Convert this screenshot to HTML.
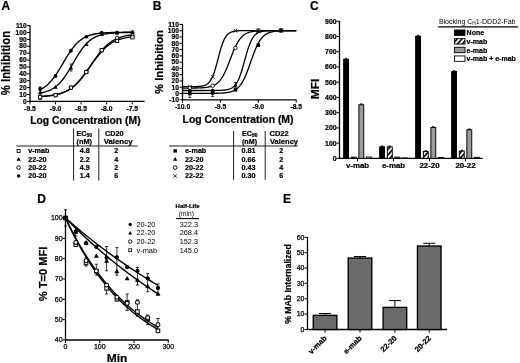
<!DOCTYPE html>
<html><head><meta charset="utf-8"><style>
html,body{margin:0;padding:0;background:#fff;}
svg{display:block;font-family:"Liberation Sans", sans-serif;filter:blur(0.3px);}
text[font-weight=bold]{stroke:#000;stroke-width:0.22px;}
</style></head><body>
<svg width="520" height="363" viewBox="0 0 520 363">
<rect width="520" height="363" fill="#fff"/>
<text x="1.60" y="10.30" font-size="12" font-weight="bold" text-anchor="start" fill="#000" >A</text>
<line x1="30.00" y1="25.31" x2="30.00" y2="101.90" stroke="#000" stroke-width="1.3"/>
<line x1="29.50" y1="101.40" x2="144.60" y2="101.40" stroke="#000" stroke-width="1.3"/>
<line x1="27.00" y1="101.40" x2="30.00" y2="101.40" stroke="#000" stroke-width="1.0"/>
<text x="26.60" y="103.60" font-size="6.6" font-weight="bold" text-anchor="end" fill="#000" >0</text>
<line x1="27.00" y1="94.51" x2="30.00" y2="94.51" stroke="#000" stroke-width="1.0"/>
<text x="26.60" y="96.71" font-size="6.6" font-weight="bold" text-anchor="end" fill="#000" >10</text>
<line x1="27.00" y1="87.62" x2="30.00" y2="87.62" stroke="#000" stroke-width="1.0"/>
<text x="26.60" y="89.82" font-size="6.6" font-weight="bold" text-anchor="end" fill="#000" >20</text>
<line x1="27.00" y1="80.73" x2="30.00" y2="80.73" stroke="#000" stroke-width="1.0"/>
<text x="26.60" y="82.93" font-size="6.6" font-weight="bold" text-anchor="end" fill="#000" >30</text>
<line x1="27.00" y1="73.84" x2="30.00" y2="73.84" stroke="#000" stroke-width="1.0"/>
<text x="26.60" y="76.04" font-size="6.6" font-weight="bold" text-anchor="end" fill="#000" >40</text>
<line x1="27.00" y1="66.95" x2="30.00" y2="66.95" stroke="#000" stroke-width="1.0"/>
<text x="26.60" y="69.15" font-size="6.6" font-weight="bold" text-anchor="end" fill="#000" >50</text>
<line x1="27.00" y1="60.06" x2="30.00" y2="60.06" stroke="#000" stroke-width="1.0"/>
<text x="26.60" y="62.26" font-size="6.6" font-weight="bold" text-anchor="end" fill="#000" >60</text>
<line x1="27.00" y1="53.17" x2="30.00" y2="53.17" stroke="#000" stroke-width="1.0"/>
<text x="26.60" y="55.37" font-size="6.6" font-weight="bold" text-anchor="end" fill="#000" >70</text>
<line x1="27.00" y1="46.28" x2="30.00" y2="46.28" stroke="#000" stroke-width="1.0"/>
<text x="26.60" y="48.48" font-size="6.6" font-weight="bold" text-anchor="end" fill="#000" >80</text>
<line x1="27.00" y1="39.39" x2="30.00" y2="39.39" stroke="#000" stroke-width="1.0"/>
<text x="26.60" y="41.59" font-size="6.6" font-weight="bold" text-anchor="end" fill="#000" >90</text>
<line x1="27.00" y1="32.50" x2="30.00" y2="32.50" stroke="#000" stroke-width="1.0"/>
<text x="26.60" y="34.70" font-size="6.6" font-weight="bold" text-anchor="end" fill="#000" >100</text>
<line x1="27.00" y1="25.61" x2="30.00" y2="25.61" stroke="#000" stroke-width="1.0"/>
<text x="26.60" y="27.81" font-size="6.6" font-weight="bold" text-anchor="end" fill="#000" >110</text>
<line x1="30.00" y1="101.40" x2="30.00" y2="104.40" stroke="#000" stroke-width="1.0"/>
<text x="30.00" y="111.30" font-size="6.7" font-weight="bold" text-anchor="middle" fill="#000" >-9.5</text>
<line x1="55.55" y1="101.40" x2="55.55" y2="104.40" stroke="#000" stroke-width="1.0"/>
<text x="55.55" y="111.30" font-size="6.7" font-weight="bold" text-anchor="middle" fill="#000" >-9.0</text>
<line x1="81.10" y1="101.40" x2="81.10" y2="104.40" stroke="#000" stroke-width="1.0"/>
<text x="81.10" y="111.30" font-size="6.7" font-weight="bold" text-anchor="middle" fill="#000" >-8.5</text>
<line x1="106.65" y1="101.40" x2="106.65" y2="104.40" stroke="#000" stroke-width="1.0"/>
<text x="106.65" y="111.30" font-size="6.7" font-weight="bold" text-anchor="middle" fill="#000" >-8.0</text>
<line x1="132.20" y1="101.40" x2="132.20" y2="104.40" stroke="#000" stroke-width="1.0"/>
<text x="132.20" y="111.30" font-size="6.7" font-weight="bold" text-anchor="middle" fill="#000" >-7.5</text>
<text x="10.30" y="63.10" font-size="12.0" font-weight="bold" text-anchor="middle" fill="#000" textLength="64.40" lengthAdjust="spacingAndGlyphs" transform="rotate(-90 10.30 63.10)" >% Inhibition</text>
<text x="30.20" y="124.40" font-size="10.4" font-weight="bold" text-anchor="start" fill="#000" textLength="110.40" lengthAdjust="spacingAndGlyphs" >Log Concentration (M)</text>
<path d="M40.17,89.56 L41.34,88.97 L42.51,88.32 L43.67,87.60 L44.84,86.81 L46.01,85.93 L47.18,84.96 L48.35,83.90 L49.51,82.75 L50.68,81.50 L51.85,80.15 L53.02,78.71 L54.19,77.17 L55.36,75.54 L56.52,73.82 L57.69,72.03 L58.86,70.16 L60.03,68.25 L61.20,66.29 L62.36,64.31 L63.53,62.32 L64.70,60.34 L65.87,58.38 L67.04,56.46 L68.21,54.59 L69.37,52.79 L70.54,51.06 L71.71,49.42 L72.88,47.87 L74.05,46.42 L75.21,45.06 L76.38,43.80 L77.55,42.64 L78.72,41.57 L79.89,40.60 L81.06,39.71 L82.22,38.90 L83.39,38.17 L84.56,37.51 L85.73,36.92 L86.90,36.39 L88.06,35.92 L89.23,35.50 L90.40,35.12 L91.57,34.78 L92.74,34.48 L93.91,34.22 L95.07,33.98 L96.24,33.77 L97.41,33.59 L98.58,33.43 L99.75,33.28 L100.91,33.15 L102.08,33.04 L103.25,32.94 L104.42,32.86 L105.59,32.78 L106.76,32.71 L107.92,32.65 L109.09,32.60 L110.26,32.55 L111.43,32.51 L112.60,32.47 L113.76,32.44 L114.93,32.41 L116.10,32.39 L117.27,32.37 L118.44,32.35 L119.61,32.33 L120.77,32.32 L121.94,32.30 L123.11,32.29 L124.28,32.28 L125.45,32.27 L126.61,32.26 L127.78,32.26 L128.95,32.25 L130.12,32.25 L131.29,32.24 L132.46,32.24" stroke="#000" stroke-width="1.35" fill="none"/>
<path d="M40.17,92.97 L41.34,92.76 L42.51,92.52 L43.67,92.26 L44.84,91.95 L46.01,91.61 L47.18,91.23 L48.35,90.80 L49.51,90.32 L50.68,89.78 L51.85,89.17 L53.02,88.50 L54.19,87.75 L55.36,86.93 L56.52,86.01 L57.69,85.01 L58.86,83.91 L60.03,82.71 L61.20,81.42 L62.36,80.02 L63.53,78.52 L64.70,76.92 L65.87,75.23 L67.04,73.45 L68.21,71.60 L69.37,69.68 L70.54,67.71 L71.71,65.70 L72.88,63.68 L74.05,61.66 L75.21,59.64 L76.38,57.67 L77.55,55.73 L78.72,53.86 L79.89,52.06 L81.06,50.35 L82.22,48.73 L83.39,47.20 L84.56,45.78 L85.73,44.45 L86.90,43.23 L88.06,42.11 L89.23,41.08 L90.40,40.15 L91.57,39.30 L92.74,38.53 L93.91,37.84 L95.07,37.22 L96.24,36.66 L97.41,36.17 L98.58,35.72 L99.75,35.33 L100.91,34.98 L102.08,34.67 L103.25,34.39 L104.42,34.15 L105.59,33.93 L106.76,33.74 L107.92,33.57 L109.09,33.42 L110.26,33.29 L111.43,33.17 L112.60,33.07 L113.76,32.98 L114.93,32.90 L116.10,32.83 L117.27,32.77 L118.44,32.72 L119.61,32.67 L120.77,32.63 L121.94,32.59 L123.11,32.56 L124.28,32.53 L125.45,32.51 L126.61,32.49 L127.78,32.47 L128.95,32.45 L130.12,32.44 L131.29,32.42 L132.46,32.41" stroke="#000" stroke-width="1.35" fill="none"/>
<path d="M40.17,96.43 L41.34,96.37 L42.51,96.30 L43.67,96.22 L44.84,96.13 L46.01,96.03 L47.18,95.92 L48.35,95.79 L49.51,95.66 L50.68,95.50 L51.85,95.34 L53.02,95.15 L54.19,94.94 L55.36,94.72 L56.52,94.47 L57.69,94.19 L58.86,93.88 L60.03,93.54 L61.20,93.17 L62.36,92.76 L63.53,92.31 L64.70,91.82 L65.87,91.27 L67.04,90.68 L68.21,90.04 L69.37,89.34 L70.54,88.58 L71.71,87.76 L72.88,86.87 L74.05,85.91 L75.21,84.88 L76.38,83.79 L77.55,82.62 L78.72,81.38 L79.89,80.07 L81.06,78.69 L82.22,77.24 L83.39,75.74 L84.56,74.18 L85.73,72.58 L86.90,70.93 L88.06,69.25 L89.23,67.55 L90.40,65.84 L91.57,64.12 L92.74,62.40 L93.91,60.71 L95.07,59.04 L96.24,57.40 L97.41,55.81 L98.58,54.27 L99.75,52.78 L100.91,51.36 L102.08,50.00 L103.25,48.71 L104.42,47.49 L105.59,46.35 L106.76,45.27 L107.92,44.26 L109.09,43.33 L110.26,42.46 L111.43,41.66 L112.60,40.91 L113.76,40.23 L114.93,39.60 L116.10,39.03 L117.27,38.50 L118.44,38.02 L119.61,37.58 L120.77,37.19 L121.94,36.82 L123.11,36.49 L124.28,36.20 L125.45,35.93 L126.61,35.68 L127.78,35.46 L128.95,35.26 L130.12,35.08 L131.29,34.92 L132.46,34.77" stroke="#000" stroke-width="1.35" fill="none"/>
<path d="M40.17,96.59 L41.34,96.53 L42.51,96.45 L43.67,96.37 L44.84,96.28 L46.01,96.19 L47.18,96.08 L48.35,95.95 L49.51,95.82 L50.68,95.67 L51.85,95.50 L53.02,95.31 L54.19,95.11 L55.36,94.88 L56.52,94.63 L57.69,94.35 L58.86,94.05 L60.03,93.71 L61.20,93.34 L62.36,92.93 L63.53,92.48 L64.70,91.99 L65.87,91.45 L67.04,90.86 L68.21,90.21 L69.37,89.51 L70.54,88.76 L71.71,87.94 L72.88,87.05 L74.05,86.10 L75.21,85.07 L76.38,83.98 L77.55,82.82 L78.72,81.59 L79.89,80.29 L81.06,78.93 L82.22,77.50 L83.39,76.02 L84.56,74.48 L85.73,72.90 L86.90,71.29 L88.06,69.64 L89.23,67.98 L90.40,66.31 L91.57,64.64 L92.74,62.98 L93.91,61.33 L95.07,59.72 L96.24,58.15 L97.41,56.62 L98.58,55.14 L99.75,53.72 L100.91,52.36 L102.08,51.06 L103.25,49.84 L104.42,48.68 L105.59,47.60 L106.76,46.58 L107.92,45.64 L109.09,44.76 L110.26,43.94 L111.43,43.19 L112.60,42.49 L113.76,41.86 L114.93,41.27 L116.10,40.74 L117.27,40.25 L118.44,39.80 L119.61,39.40 L120.77,39.03 L121.94,38.69 L123.11,38.39 L124.28,38.11 L125.45,37.86 L126.61,37.64 L127.78,37.44 L128.95,37.25 L130.12,37.09 L131.29,36.94 L132.46,36.80" stroke="#000" stroke-width="1.35" fill="none"/>
<path d="M40.17,87.00 L40.17,99.50 M38.77,87.00 L41.57,87.00 M38.77,99.50 L41.57,99.50" stroke="#000" stroke-width="0.8" fill="none"/>
<path d="M70.93,64.00 L70.93,71.00 M69.53,64.00 L72.33,64.00 M69.53,71.00 L72.33,71.00" stroke="#000" stroke-width="0.8" fill="none"/>
<circle cx="40.17" cy="89.00" r="1.90" fill="#000"/>
<circle cx="55.55" cy="75.91" r="1.90" fill="#000"/>
<circle cx="70.93" cy="50.76" r="1.90" fill="#000"/>
<circle cx="86.31" cy="36.63" r="1.90" fill="#000"/>
<circle cx="101.69" cy="32.57" r="1.90" fill="#000"/>
<circle cx="117.07" cy="32.57" r="1.90" fill="#000"/>
<circle cx="132.46" cy="32.22" r="1.90" fill="#000"/>
<path d="M40.17,90.24 L42.37,94.20 L37.97,94.20 Z" fill="#000"/>
<path d="M55.55,84.73 L57.75,88.69 L53.35,88.69 Z" fill="#000"/>
<path d="M70.93,65.44 L73.13,69.40 L68.73,69.40 Z" fill="#000"/>
<path d="M86.31,42.01 L88.51,45.97 L84.11,45.97 Z" fill="#000"/>
<path d="M101.69,32.02 L103.89,35.98 L99.49,35.98 Z" fill="#000"/>
<path d="M117.07,30.58 L119.27,34.54 L114.87,34.54 Z" fill="#000"/>
<path d="M132.46,30.16 L134.66,34.12 L130.26,34.12 Z" fill="#000"/>
<circle cx="40.17" cy="96.58" r="1.75" fill="#fff" stroke="#000" stroke-width="0.90"/>
<circle cx="55.55" cy="95.20" r="1.75" fill="#fff" stroke="#000" stroke-width="0.90"/>
<circle cx="70.93" cy="87.62" r="1.75" fill="#fff" stroke="#000" stroke-width="0.90"/>
<circle cx="86.31" cy="71.77" r="1.75" fill="#fff" stroke="#000" stroke-width="0.90"/>
<circle cx="101.69" cy="50.41" r="1.75" fill="#fff" stroke="#000" stroke-width="0.90"/>
<circle cx="117.07" cy="37.81" r="1.75" fill="#fff" stroke="#000" stroke-width="0.90"/>
<circle cx="132.46" cy="35.60" r="1.75" fill="#fff" stroke="#000" stroke-width="0.90"/>
<rect x="38.57" y="95.67" width="3.20" height="3.20" fill="#fff" stroke="#000" stroke-width="0.90"/>
<rect x="53.95" y="93.60" width="3.20" height="3.20" fill="#fff" stroke="#000" stroke-width="0.90"/>
<rect x="69.33" y="86.02" width="3.20" height="3.20" fill="#fff" stroke="#000" stroke-width="0.90"/>
<rect x="84.71" y="70.52" width="3.20" height="3.20" fill="#fff" stroke="#000" stroke-width="0.90"/>
<rect x="100.09" y="48.61" width="3.20" height="3.20" fill="#fff" stroke="#000" stroke-width="0.90"/>
<rect x="115.47" y="39.31" width="3.20" height="3.20" fill="#fff" stroke="#000" stroke-width="0.90"/>
<rect x="130.86" y="35.72" width="3.20" height="3.20" fill="#fff" stroke="#000" stroke-width="0.90"/>
<line x1="16.30" y1="146.00" x2="137.70" y2="146.00" stroke="#222" stroke-width="1.1"/>
<line x1="73.60" y1="128.50" x2="73.60" y2="180.50" stroke="#222" stroke-width="1.0"/>
<line x1="98.80" y1="128.50" x2="98.80" y2="180.50" stroke="#222" stroke-width="1.0"/>
<text x="76.5" y="135.6" font-size="7.2" font-weight="bold">EC<tspan font-size="5.0" dy="1.5">50</tspan></text>
<text x="76.50" y="144.10" font-size="7.2" font-weight="bold" text-anchor="start" fill="#000" textLength="15.50" lengthAdjust="spacingAndGlyphs" >(nM)</text>
<text x="105.00" y="135.60" font-size="7.2" font-weight="bold" text-anchor="start" fill="#000" textLength="18.60" lengthAdjust="spacingAndGlyphs" >CD20</text>
<text x="103.80" y="144.10" font-size="7.2" font-weight="bold" text-anchor="start" fill="#000" textLength="28.90" lengthAdjust="spacingAndGlyphs" >Valency</text>
<rect x="17.08" y="149.38" width="3.04" height="3.04" fill="#fff" stroke="#000" stroke-width="0.85"/>
<text x="28.20" y="153.30" font-size="7.2" font-weight="bold" text-anchor="start" fill="#000" >v-mab</text>
<text x="84.80" y="153.30" font-size="7.2" font-weight="bold" text-anchor="middle" fill="#000" >4.8</text>
<text x="116.20" y="153.30" font-size="7.2" font-weight="bold" text-anchor="middle" fill="#000" >2</text>
<path d="M18.60,157.11 L20.69,160.87 L16.51,160.87 Z" fill="#000"/>
<text x="28.20" y="161.60" font-size="7.2" font-weight="bold" text-anchor="start" fill="#000" >22-20</text>
<text x="84.80" y="161.60" font-size="7.2" font-weight="bold" text-anchor="middle" fill="#000" >2.2</text>
<text x="116.20" y="161.60" font-size="7.2" font-weight="bold" text-anchor="middle" fill="#000" >4</text>
<circle cx="18.60" cy="167.60" r="1.84" fill="#fff" stroke="#000" stroke-width="0.95"/>
<text x="28.20" y="170.00" font-size="7.2" font-weight="bold" text-anchor="start" fill="#000" >20-22</text>
<text x="84.80" y="170.00" font-size="7.2" font-weight="bold" text-anchor="middle" fill="#000" >4.9</text>
<text x="116.20" y="170.00" font-size="7.2" font-weight="bold" text-anchor="middle" fill="#000" >2</text>
<circle cx="18.60" cy="176.00" r="1.80" fill="#000"/>
<text x="28.20" y="178.40" font-size="7.2" font-weight="bold" text-anchor="start" fill="#000" >20-20</text>
<text x="84.80" y="178.40" font-size="7.2" font-weight="bold" text-anchor="middle" fill="#000" >1.4</text>
<text x="116.20" y="178.40" font-size="7.2" font-weight="bold" text-anchor="middle" fill="#000" >6</text>
<text x="152.80" y="10.30" font-size="12" font-weight="bold" text-anchor="start" fill="#000" >B</text>
<line x1="182.50" y1="24.18" x2="182.50" y2="100.28" stroke="#000" stroke-width="1.3"/>
<line x1="182.00" y1="99.78" x2="296.50" y2="99.78" stroke="#000" stroke-width="1.3"/>
<line x1="179.50" y1="99.78" x2="182.50" y2="99.78" stroke="#000" stroke-width="1.0"/>
<text x="179.00" y="102.08" font-size="6.7" font-weight="bold" text-anchor="end" fill="#000" >-10</text>
<line x1="179.50" y1="93.50" x2="182.50" y2="93.50" stroke="#000" stroke-width="1.0"/>
<text x="179.00" y="95.80" font-size="6.7" font-weight="bold" text-anchor="end" fill="#000" >0</text>
<line x1="179.50" y1="87.22" x2="182.50" y2="87.22" stroke="#000" stroke-width="1.0"/>
<text x="179.00" y="89.52" font-size="6.7" font-weight="bold" text-anchor="end" fill="#000" >10</text>
<line x1="179.50" y1="80.95" x2="182.50" y2="80.95" stroke="#000" stroke-width="1.0"/>
<text x="179.00" y="83.25" font-size="6.7" font-weight="bold" text-anchor="end" fill="#000" >20</text>
<line x1="179.50" y1="74.67" x2="182.50" y2="74.67" stroke="#000" stroke-width="1.0"/>
<text x="179.00" y="76.97" font-size="6.7" font-weight="bold" text-anchor="end" fill="#000" >30</text>
<line x1="179.50" y1="68.40" x2="182.50" y2="68.40" stroke="#000" stroke-width="1.0"/>
<text x="179.00" y="70.70" font-size="6.7" font-weight="bold" text-anchor="end" fill="#000" >40</text>
<line x1="179.50" y1="62.12" x2="182.50" y2="62.12" stroke="#000" stroke-width="1.0"/>
<text x="179.00" y="64.42" font-size="6.7" font-weight="bold" text-anchor="end" fill="#000" >50</text>
<line x1="179.50" y1="55.85" x2="182.50" y2="55.85" stroke="#000" stroke-width="1.0"/>
<text x="179.00" y="58.15" font-size="6.7" font-weight="bold" text-anchor="end" fill="#000" >60</text>
<line x1="179.50" y1="49.58" x2="182.50" y2="49.58" stroke="#000" stroke-width="1.0"/>
<text x="179.00" y="51.88" font-size="6.7" font-weight="bold" text-anchor="end" fill="#000" >70</text>
<line x1="179.50" y1="43.30" x2="182.50" y2="43.30" stroke="#000" stroke-width="1.0"/>
<text x="179.00" y="45.60" font-size="6.7" font-weight="bold" text-anchor="end" fill="#000" >80</text>
<line x1="179.50" y1="37.03" x2="182.50" y2="37.03" stroke="#000" stroke-width="1.0"/>
<text x="179.00" y="39.33" font-size="6.7" font-weight="bold" text-anchor="end" fill="#000" >90</text>
<line x1="179.50" y1="30.75" x2="182.50" y2="30.75" stroke="#000" stroke-width="1.0"/>
<text x="179.00" y="33.05" font-size="6.7" font-weight="bold" text-anchor="end" fill="#000" >100</text>
<line x1="179.50" y1="24.48" x2="182.50" y2="24.48" stroke="#000" stroke-width="1.0"/>
<text x="179.00" y="26.78" font-size="6.7" font-weight="bold" text-anchor="end" fill="#000" >110</text>
<line x1="182.50" y1="99.78" x2="182.50" y2="102.78" stroke="#000" stroke-width="1.0"/>
<text x="182.50" y="109.40" font-size="6.7" font-weight="bold" text-anchor="middle" fill="#000" >-10.0</text>
<line x1="220.40" y1="99.78" x2="220.40" y2="102.78" stroke="#000" stroke-width="1.0"/>
<text x="220.40" y="109.40" font-size="6.7" font-weight="bold" text-anchor="middle" fill="#000" >-9.5</text>
<line x1="258.30" y1="99.78" x2="258.30" y2="102.78" stroke="#000" stroke-width="1.0"/>
<text x="258.30" y="109.40" font-size="6.7" font-weight="bold" text-anchor="middle" fill="#000" >-9.0</text>
<line x1="296.20" y1="99.78" x2="296.20" y2="102.78" stroke="#000" stroke-width="1.0"/>
<text x="296.20" y="109.40" font-size="6.7" font-weight="bold" text-anchor="middle" fill="#000" >-8.5</text>
<text x="162.80" y="62.00" font-size="11.8" font-weight="bold" text-anchor="middle" fill="#000" textLength="64.00" lengthAdjust="spacingAndGlyphs" transform="rotate(-90 162.80 62.00)" >% Inhibition</text>
<text x="182.60" y="123.10" font-size="10.4" font-weight="bold" text-anchor="start" fill="#000" textLength="110.90" lengthAdjust="spacingAndGlyphs" >Log Concentration (M)</text>
<path d="M182.50,86.72 L183.02,86.72 L183.54,86.72 L184.06,86.72 L184.58,86.72 L185.10,86.72 L185.62,86.72 L186.13,86.71 L186.65,86.71 L187.17,86.71 L187.69,86.71 L188.21,86.71 L188.73,86.70 L189.25,86.70 L189.77,86.70 L190.29,86.70 L190.81,86.69 L191.33,86.69 L191.85,86.68 L192.36,86.67 L192.88,86.67 L193.40,86.66 L193.92,86.65 L194.44,86.64 L194.96,86.62 L195.48,86.61 L196.00,86.59 L196.52,86.57 L197.04,86.55 L197.56,86.52 L198.08,86.49 L198.59,86.45 L199.11,86.41 L199.63,86.37 L200.15,86.31 L200.67,86.25 L201.19,86.18 L201.71,86.10 L202.23,86.00 L202.75,85.90 L203.27,85.77 L203.79,85.63 L204.31,85.47 L204.82,85.28 L205.34,85.07 L205.86,84.82 L206.38,84.55 L206.90,84.23 L207.42,83.87 L207.94,83.46 L208.46,82.99 L208.98,82.47 L209.50,81.87 L210.02,81.21 L210.54,80.46 L211.05,79.62 L211.57,78.70 L212.09,77.67 L212.61,76.54 L213.13,75.30 L213.65,73.96 L214.17,72.50 L214.69,70.94 L215.21,69.28 L215.73,67.53 L216.25,65.70 L216.77,63.80 L217.28,61.86 L217.80,59.88 L218.32,57.89 L218.84,55.90 L219.36,53.94 L219.88,52.03 L220.40,50.18 L220.92,48.41 L221.44,46.73 L221.96,45.15 L222.48,43.67 L223.00,42.30 L223.52,41.03 L224.03,39.88 L224.55,38.83 L225.07,37.87 L225.59,37.02 L226.11,36.25 L226.63,35.56 L227.15,34.95 L227.67,34.41 L228.19,33.93 L228.71,33.51 L229.23,33.14 L229.75,32.81 L230.26,32.52 L230.78,32.27 L231.30,32.05 L231.82,31.86 L232.34,31.69 L232.86,31.54 L233.38,31.42 L233.90,31.30 L234.42,31.21 L234.94,31.12 L235.46,31.05 L235.98,30.99 L236.49,30.93 L237.01,30.88 L237.53,30.84 L238.05,30.80 L238.57,30.77 L239.09,30.74 L239.61,30.72 L240.13,30.70 L240.65,30.68 L241.17,30.66 L241.69,30.65 L242.21,30.64 L242.72,30.63 L243.24,30.62 L243.76,30.61 L244.28,30.61 L244.80,30.60 L245.32,30.59 L245.84,30.59 L246.36,30.59 L246.88,30.58 L247.40,30.58 L247.92,30.58 L248.44,30.58 L248.95,30.57 L249.47,30.57 L249.99,30.57 L250.51,30.57 L251.03,30.57 L251.55,30.57 L252.07,30.57 L252.59,30.57 L253.11,30.57 L253.63,30.57 L254.15,30.56 L254.67,30.56 L255.18,30.56 L255.70,30.56 L256.22,30.56 L256.74,30.56 L257.26,30.56 L257.78,30.56 L258.30,30.56 L258.82,30.56 L259.34,30.56 L259.86,30.56 L260.38,30.56 L260.90,30.56 L261.42,30.56 L261.93,30.56 L262.45,30.56 L262.97,30.56 L263.49,30.56 L264.01,30.56 L264.53,30.56 L265.05,30.56 L265.57,30.56 L266.09,30.56 L266.61,30.56 L267.13,30.56 L267.65,30.56 L268.16,30.56 L268.68,30.56 L269.20,30.56 L269.72,30.56 L270.24,30.56 L270.76,30.56 L271.28,30.56 L271.80,30.56 L272.32,30.56 L272.84,30.56 L273.36,30.56 L273.88,30.56 L274.39,30.56 L274.91,30.56 L275.43,30.56 L275.95,30.56 L276.47,30.56 L276.99,30.56 L277.51,30.56 L278.03,30.56 L278.55,30.56 L279.07,30.56 L279.59,30.56 L280.11,30.56 L280.62,30.56 L281.14,30.56 L281.66,30.56 L282.18,30.56 L282.70,30.56 L283.22,30.56 L283.74,30.56 L284.26,30.56 L284.78,30.56 L285.30,30.56 L285.82,30.56 L286.34,30.56 L286.85,30.56 L287.37,30.56 L287.89,30.56 L288.41,30.56 L288.93,30.56 L289.45,30.56 L289.97,30.56 L290.49,30.56 L291.01,30.56 L291.53,30.56 L292.05,30.56 L292.57,30.56 L293.08,30.56 L293.60,30.56 L294.12,30.56 L294.64,30.56 L295.16,30.56 L295.68,30.56 L296.20,30.56" stroke="#000" stroke-width="1.3" fill="none"/>
<path d="M182.50,88.09 L183.02,88.09 L183.54,88.09 L184.06,88.09 L184.58,88.09 L185.10,88.09 L185.62,88.09 L186.13,88.08 L186.65,88.08 L187.17,88.08 L187.69,88.08 L188.21,88.08 L188.73,88.07 L189.25,88.07 L189.77,88.07 L190.29,88.06 L190.81,88.06 L191.33,88.06 L191.85,88.05 L192.36,88.05 L192.88,88.04 L193.40,88.03 L193.92,88.03 L194.44,88.02 L194.96,88.01 L195.48,88.00 L196.00,87.99 L196.52,87.98 L197.04,87.97 L197.56,87.96 L198.08,87.94 L198.59,87.92 L199.11,87.91 L199.63,87.89 L200.15,87.87 L200.67,87.84 L201.19,87.82 L201.71,87.79 L202.23,87.76 L202.75,87.72 L203.27,87.69 L203.79,87.64 L204.31,87.60 L204.82,87.55 L205.34,87.50 L205.86,87.44 L206.38,87.37 L206.90,87.30 L207.42,87.22 L207.94,87.13 L208.46,87.04 L208.98,86.94 L209.50,86.82 L210.02,86.70 L210.54,86.56 L211.05,86.42 L211.57,86.25 L212.09,86.08 L212.61,85.88 L213.13,85.67 L213.65,85.44 L214.17,85.19 L214.69,84.92 L215.21,84.62 L215.73,84.30 L216.25,83.95 L216.77,83.57 L217.28,83.16 L217.80,82.71 L218.32,82.23 L218.84,81.71 L219.36,81.15 L219.88,80.56 L220.40,79.91 L220.92,79.23 L221.44,78.49 L221.96,77.71 L222.48,76.88 L223.00,76.00 L223.52,75.07 L224.03,74.09 L224.55,73.07 L225.07,71.99 L225.59,70.87 L226.11,69.71 L226.63,68.50 L227.15,67.26 L227.67,65.99 L228.19,64.69 L228.71,63.36 L229.23,62.02 L229.75,60.67 L230.26,59.31 L230.78,57.95 L231.30,56.59 L231.82,55.25 L232.34,53.93 L232.86,52.62 L233.38,51.35 L233.90,50.11 L234.42,48.91 L234.94,47.75 L235.46,46.63 L235.98,45.56 L236.49,44.53 L237.01,43.56 L237.53,42.63 L238.05,41.75 L238.57,40.92 L239.09,40.14 L239.61,39.41 L240.13,38.73 L240.65,38.08 L241.17,37.49 L241.69,36.93 L242.21,36.41 L242.72,35.94 L243.24,35.49 L243.76,35.08 L244.28,34.70 L244.80,34.35 L245.32,34.03 L245.84,33.74 L246.36,33.46 L246.88,33.21 L247.40,32.98 L247.92,32.77 L248.44,32.58 L248.95,32.40 L249.47,32.24 L249.99,32.10 L250.51,31.96 L251.03,31.84 L251.55,31.72 L252.07,31.62 L252.59,31.53 L253.11,31.44 L253.63,31.36 L254.15,31.29 L254.67,31.23 L255.18,31.17 L255.70,31.11 L256.22,31.06 L256.74,31.02 L257.26,30.98 L257.78,30.94 L258.30,30.91 L258.82,30.88 L259.34,30.85 L259.86,30.82 L260.38,30.80 L260.90,30.78 L261.42,30.76 L261.93,30.74 L262.45,30.72 L262.97,30.71 L263.49,30.70 L264.01,30.68 L264.53,30.67 L265.05,30.66 L265.57,30.65 L266.09,30.65 L266.61,30.64 L267.13,30.63 L267.65,30.62 L268.16,30.62 L268.68,30.61 L269.20,30.61 L269.72,30.60 L270.24,30.60 L270.76,30.60 L271.28,30.59 L271.80,30.59 L272.32,30.59 L272.84,30.59 L273.36,30.58 L273.88,30.58 L274.39,30.58 L274.91,30.58 L275.43,30.58 L275.95,30.58 L276.47,30.57 L276.99,30.57 L277.51,30.57 L278.03,30.57 L278.55,30.57 L279.07,30.57 L279.59,30.57 L280.11,30.57 L280.62,30.57 L281.14,30.57 L281.66,30.57 L282.18,30.57 L282.70,30.57 L283.22,30.57 L283.74,30.57 L284.26,30.56 L284.78,30.56 L285.30,30.56 L285.82,30.56 L286.34,30.56 L286.85,30.56 L287.37,30.56 L287.89,30.56 L288.41,30.56 L288.93,30.56 L289.45,30.56 L289.97,30.56 L290.49,30.56 L291.01,30.56 L291.53,30.56 L292.05,30.56 L292.57,30.56 L293.08,30.56 L293.60,30.56 L294.12,30.56 L294.64,30.56 L295.16,30.56 L295.68,30.56 L296.20,30.56" stroke="#000" stroke-width="1.3" fill="none"/>
<path d="M182.50,90.49 L183.02,90.49 L183.54,90.49 L184.06,90.49 L184.58,90.49 L185.10,90.49 L185.62,90.49 L186.13,90.49 L186.65,90.49 L187.17,90.49 L187.69,90.49 L188.21,90.49 L188.73,90.49 L189.25,90.49 L189.77,90.49 L190.29,90.49 L190.81,90.49 L191.33,90.49 L191.85,90.49 L192.36,90.49 L192.88,90.49 L193.40,90.49 L193.92,90.49 L194.44,90.49 L194.96,90.49 L195.48,90.49 L196.00,90.49 L196.52,90.49 L197.04,90.49 L197.56,90.49 L198.08,90.49 L198.59,90.49 L199.11,90.49 L199.63,90.49 L200.15,90.49 L200.67,90.49 L201.19,90.49 L201.71,90.49 L202.23,90.49 L202.75,90.49 L203.27,90.49 L203.79,90.49 L204.31,90.48 L204.82,90.48 L205.34,90.48 L205.86,90.48 L206.38,90.48 L206.90,90.48 L207.42,90.48 L207.94,90.48 L208.46,90.48 L208.98,90.48 L209.50,90.48 L210.02,90.47 L210.54,90.47 L211.05,90.47 L211.57,90.47 L212.09,90.47 L212.61,90.46 L213.13,90.46 L213.65,90.46 L214.17,90.45 L214.69,90.45 L215.21,90.44 L215.73,90.44 L216.25,90.43 L216.77,90.42 L217.28,90.41 L217.80,90.40 L218.32,90.39 L218.84,90.38 L219.36,90.36 L219.88,90.34 L220.40,90.32 L220.92,90.30 L221.44,90.28 L221.96,90.25 L222.48,90.22 L223.00,90.18 L223.52,90.14 L224.03,90.09 L224.55,90.04 L225.07,89.98 L225.59,89.91 L226.11,89.83 L226.63,89.75 L227.15,89.65 L227.67,89.54 L228.19,89.41 L228.71,89.27 L229.23,89.11 L229.75,88.93 L230.26,88.73 L230.78,88.50 L231.30,88.24 L231.82,87.95 L232.34,87.63 L232.86,87.26 L233.38,86.85 L233.90,86.40 L234.42,85.89 L234.94,85.33 L235.46,84.70 L235.98,84.01 L236.49,83.24 L237.01,82.40 L237.53,81.47 L238.05,80.46 L238.57,79.36 L239.09,78.18 L239.61,76.90 L240.13,75.52 L240.65,74.06 L241.17,72.52 L241.69,70.89 L242.21,69.19 L242.72,67.43 L243.24,65.62 L243.76,63.76 L244.28,61.88 L244.80,60.00 L245.32,58.11 L245.84,56.24 L246.36,54.41 L246.88,52.63 L247.40,50.90 L247.92,49.24 L248.44,47.66 L248.95,46.16 L249.47,44.75 L249.99,43.43 L250.51,42.20 L251.03,41.06 L251.55,40.01 L252.07,39.05 L252.59,38.17 L253.11,37.37 L253.63,36.65 L254.15,35.99 L254.67,35.40 L255.18,34.87 L255.70,34.39 L256.22,33.96 L256.74,33.58 L257.26,33.24 L257.78,32.93 L258.30,32.66 L258.82,32.42 L259.34,32.21 L259.86,32.02 L260.38,31.85 L260.90,31.70 L261.42,31.57 L261.93,31.45 L262.45,31.34 L262.97,31.25 L263.49,31.17 L264.01,31.10 L264.53,31.04 L265.05,30.98 L265.57,30.93 L266.09,30.89 L266.61,30.85 L267.13,30.82 L267.65,30.79 L268.16,30.76 L268.68,30.74 L269.20,30.72 L269.72,30.70 L270.24,30.68 L270.76,30.67 L271.28,30.65 L271.80,30.64 L272.32,30.63 L272.84,30.63 L273.36,30.62 L273.88,30.61 L274.39,30.61 L274.91,30.60 L275.43,30.60 L275.95,30.59 L276.47,30.59 L276.99,30.58 L277.51,30.58 L278.03,30.58 L278.55,30.58 L279.07,30.58 L279.59,30.57 L280.11,30.57 L280.62,30.57 L281.14,30.57 L281.66,30.57 L282.18,30.57 L282.70,30.57 L283.22,30.57 L283.74,30.57 L284.26,30.57 L284.78,30.57 L285.30,30.56 L285.82,30.56 L286.34,30.56 L286.85,30.56 L287.37,30.56 L287.89,30.56 L288.41,30.56 L288.93,30.56 L289.45,30.56 L289.97,30.56 L290.49,30.56 L291.01,30.56 L291.53,30.56 L292.05,30.56 L292.57,30.56 L293.08,30.56 L293.60,30.56 L294.12,30.56 L294.64,30.56 L295.16,30.56 L295.68,30.56 L296.20,30.56" stroke="#000" stroke-width="1.3" fill="none"/>
<path d="M182.50,93.37 L183.02,93.37 L183.54,93.37 L184.06,93.37 L184.58,93.37 L185.10,93.37 L185.62,93.37 L186.13,93.37 L186.65,93.37 L187.17,93.37 L187.69,93.37 L188.21,93.37 L188.73,93.37 L189.25,93.37 L189.77,93.37 L190.29,93.37 L190.81,93.37 L191.33,93.37 L191.85,93.37 L192.36,93.37 L192.88,93.37 L193.40,93.37 L193.92,93.37 L194.44,93.37 L194.96,93.37 L195.48,93.37 L196.00,93.37 L196.52,93.37 L197.04,93.37 L197.56,93.37 L198.08,93.37 L198.59,93.37 L199.11,93.37 L199.63,93.37 L200.15,93.37 L200.67,93.37 L201.19,93.37 L201.71,93.37 L202.23,93.37 L202.75,93.36 L203.27,93.36 L203.79,93.36 L204.31,93.36 L204.82,93.36 L205.34,93.36 L205.86,93.36 L206.38,93.36 L206.90,93.35 L207.42,93.35 L207.94,93.35 L208.46,93.35 L208.98,93.34 L209.50,93.34 L210.02,93.34 L210.54,93.33 L211.05,93.33 L211.57,93.32 L212.09,93.32 L212.61,93.31 L213.13,93.31 L213.65,93.30 L214.17,93.29 L214.69,93.29 L215.21,93.28 L215.73,93.27 L216.25,93.26 L216.77,93.25 L217.28,93.23 L217.80,93.22 L218.32,93.20 L218.84,93.19 L219.36,93.17 L219.88,93.15 L220.40,93.13 L220.92,93.10 L221.44,93.07 L221.96,93.04 L222.48,93.01 L223.00,92.98 L223.52,92.94 L224.03,92.89 L224.55,92.85 L225.07,92.79 L225.59,92.74 L226.11,92.67 L226.63,92.61 L227.15,92.53 L227.67,92.45 L228.19,92.36 L228.71,92.26 L229.23,92.15 L229.75,92.03 L230.26,91.90 L230.78,91.76 L231.30,91.60 L231.82,91.43 L232.34,91.25 L232.86,91.04 L233.38,90.82 L233.90,90.58 L234.42,90.31 L234.94,90.03 L235.46,89.71 L235.98,89.37 L236.49,89.00 L237.01,88.60 L237.53,88.17 L238.05,87.70 L238.57,87.19 L239.09,86.64 L239.61,86.05 L240.13,85.42 L240.65,84.73 L241.17,84.00 L241.69,83.23 L242.21,82.39 L242.72,81.51 L243.24,80.57 L243.76,79.58 L244.28,78.54 L244.80,77.44 L245.32,76.28 L245.84,75.08 L246.36,73.83 L246.88,72.54 L247.40,71.20 L247.92,69.82 L248.44,68.41 L248.95,66.98 L249.47,65.52 L249.99,64.05 L250.51,62.56 L251.03,61.08 L251.55,59.60 L252.07,58.12 L252.59,56.67 L253.11,55.24 L253.63,53.84 L254.15,52.47 L254.67,51.14 L255.18,49.85 L255.70,48.61 L256.22,47.42 L256.74,46.28 L257.26,45.19 L257.78,44.15 L258.30,43.17 L258.82,42.25 L259.34,41.37 L259.86,40.55 L260.38,39.78 L260.90,39.06 L261.42,38.39 L261.93,37.76 L262.45,37.18 L262.97,36.64 L263.49,36.14 L264.01,35.68 L264.53,35.25 L265.05,34.86 L265.57,34.49 L266.09,34.16 L266.61,33.85 L267.13,33.57 L267.65,33.31 L268.16,33.07 L268.68,32.85 L269.20,32.65 L269.72,32.47 L270.24,32.30 L270.76,32.15 L271.28,32.01 L271.80,31.88 L272.32,31.76 L272.84,31.66 L273.36,31.56 L273.88,31.47 L274.39,31.39 L274.91,31.32 L275.43,31.25 L275.95,31.19 L276.47,31.13 L276.99,31.08 L277.51,31.03 L278.03,30.99 L278.55,30.95 L279.07,30.92 L279.59,30.89 L280.11,30.86 L280.62,30.83 L281.14,30.81 L281.66,30.78 L282.18,30.76 L282.70,30.75 L283.22,30.73 L283.74,30.71 L284.26,30.70 L284.78,30.69 L285.30,30.68 L285.82,30.67 L286.34,30.66 L286.85,30.65 L287.37,30.64 L287.89,30.63 L288.41,30.63 L288.93,30.62 L289.45,30.62 L289.97,30.61 L290.49,30.61 L291.01,30.60 L291.53,30.60 L292.05,30.60 L292.57,30.59 L293.08,30.59 L293.60,30.59 L294.12,30.58 L294.64,30.58 L295.16,30.58 L295.68,30.58 L296.20,30.58" stroke="#000" stroke-width="1.3" fill="none"/>
<path d="M189.85,91.00 L189.85,97.50 M188.45,91.00 L191.25,91.00 M188.45,97.50 L191.25,97.50" stroke="#000" stroke-width="0.8" fill="none"/>
<path d="M212.67,89.50 L212.67,96.50 M211.27,89.50 L214.07,89.50 M211.27,96.50 L214.07,96.50" stroke="#000" stroke-width="0.8" fill="none"/>
<path d="M235.48,82.50 L235.48,88.00 M234.08,82.50 L236.88,82.50 M234.08,88.00 L236.88,88.00" stroke="#000" stroke-width="0.8" fill="none"/>
<path d="M188.05,84.92 L191.65,88.52 M191.65,84.92 L188.05,88.52" stroke="#000" stroke-width="0.90" fill="none"/>
<path d="M210.87,75.01 L214.47,78.61 M214.47,75.01 L210.87,78.61" stroke="#000" stroke-width="0.90" fill="none"/>
<path d="M233.68,28.95 L237.28,32.55 M237.28,28.95 L233.68,32.55" stroke="#000" stroke-width="0.90" fill="none"/>
<path d="M256.50,28.64 L260.10,32.24 M260.10,28.64 L256.50,32.24" stroke="#000" stroke-width="0.90" fill="none"/>
<path d="M279.32,28.64 L282.92,32.24 M282.92,28.64 L279.32,32.24" stroke="#000" stroke-width="0.90" fill="none"/>
<circle cx="189.85" cy="88.10" r="1.75" fill="#fff" stroke="#000" stroke-width="0.90"/>
<circle cx="212.67" cy="85.72" r="1.75" fill="#fff" stroke="#000" stroke-width="0.90"/>
<circle cx="235.48" cy="47.88" r="1.75" fill="#fff" stroke="#000" stroke-width="0.90"/>
<circle cx="258.30" cy="30.44" r="1.75" fill="#fff" stroke="#000" stroke-width="0.90"/>
<circle cx="281.12" cy="30.44" r="1.75" fill="#fff" stroke="#000" stroke-width="0.90"/>
<path d="M189.85,88.29 L192.05,92.25 L187.65,92.25 Z" fill="#000"/>
<path d="M212.67,88.29 L214.87,92.25 L210.47,92.25 Z" fill="#000"/>
<path d="M235.48,82.83 L237.68,86.79 L233.28,86.79 Z" fill="#000"/>
<path d="M258.30,28.80 L260.50,32.76 L256.10,32.76 Z" fill="#000"/>
<path d="M281.12,28.24 L283.32,32.20 L278.92,32.20 Z" fill="#000"/>
<rect x="188.05" y="91.70" width="3.60" height="3.60" fill="#000"/>
<rect x="210.87" y="91.07" width="3.60" height="3.60" fill="#000"/>
<rect x="233.68" y="87.94" width="3.60" height="3.60" fill="#000"/>
<rect x="256.50" y="43.38" width="3.60" height="3.60" fill="#000"/>
<rect x="279.32" y="28.64" width="3.60" height="3.60" fill="#000"/>
<line x1="169.10" y1="146.00" x2="297.70" y2="146.00" stroke="#222" stroke-width="1.1"/>
<line x1="233.60" y1="131.00" x2="233.60" y2="179.80" stroke="#222" stroke-width="1.0"/>
<line x1="265.20" y1="131.00" x2="265.20" y2="179.80" stroke="#222" stroke-width="1.0"/>
<text x="242" y="135.6" font-size="7.2" font-weight="bold">EC<tspan font-size="5.0" dy="1.5">50</tspan></text>
<text x="242.00" y="144.10" font-size="7.2" font-weight="bold" text-anchor="start" fill="#000" textLength="15.00" lengthAdjust="spacingAndGlyphs" >(nM)</text>
<text x="269.60" y="135.60" font-size="7.2" font-weight="bold" text-anchor="start" fill="#000" textLength="19.00" lengthAdjust="spacingAndGlyphs" >CD22</text>
<text x="270.00" y="144.10" font-size="7.2" font-weight="bold" text-anchor="start" fill="#000" textLength="28.00" lengthAdjust="spacingAndGlyphs" >Valency</text>
<rect x="173.49" y="149.19" width="3.42" height="3.42" fill="#000"/>
<text x="185.10" y="153.30" font-size="7.2" font-weight="bold" text-anchor="start" fill="#000" >e-mab</text>
<text x="248.50" y="153.30" font-size="7.2" font-weight="bold" text-anchor="middle" fill="#000" >0.81</text>
<text x="281.20" y="153.30" font-size="7.2" font-weight="bold" text-anchor="middle" fill="#000" >2</text>
<path d="M175.20,157.11 L177.29,160.87 L173.11,160.87 Z" fill="#000"/>
<text x="185.10" y="161.60" font-size="7.2" font-weight="bold" text-anchor="start" fill="#000" >22-20</text>
<text x="248.50" y="161.60" font-size="7.2" font-weight="bold" text-anchor="middle" fill="#000" >0.66</text>
<text x="281.20" y="161.60" font-size="7.2" font-weight="bold" text-anchor="middle" fill="#000" >2</text>
<circle cx="175.20" cy="167.60" r="1.84" fill="#fff" stroke="#000" stroke-width="0.95"/>
<text x="185.10" y="170.00" font-size="7.2" font-weight="bold" text-anchor="start" fill="#000" >20-22</text>
<text x="248.50" y="170.00" font-size="7.2" font-weight="bold" text-anchor="middle" fill="#000" >0.43</text>
<text x="281.20" y="170.00" font-size="7.2" font-weight="bold" text-anchor="middle" fill="#000" >4</text>
<path d="M173.49,174.29 L176.91,177.71 M176.91,174.29 L173.49,177.71" stroke="#000" stroke-width="0.85" fill="none"/>
<text x="185.10" y="178.40" font-size="7.2" font-weight="bold" text-anchor="start" fill="#000" >22-22</text>
<text x="248.50" y="178.40" font-size="7.2" font-weight="bold" text-anchor="middle" fill="#000" >0.30</text>
<text x="281.20" y="178.40" font-size="7.2" font-weight="bold" text-anchor="middle" fill="#000" >6</text>
<text x="310.00" y="10.30" font-size="12" font-weight="bold" text-anchor="start" fill="#000" >C</text>
<line x1="339.50" y1="20.94" x2="339.50" y2="158.90" stroke="#000" stroke-width="1.3"/>
<line x1="339.00" y1="158.40" x2="482.70" y2="158.40" stroke="#000" stroke-width="1.3"/>
<line x1="336.50" y1="158.40" x2="339.50" y2="158.40" stroke="#000" stroke-width="1.0"/>
<text x="336.60" y="160.80" font-size="6.9" font-weight="bold" text-anchor="end" fill="#000" >0</text>
<line x1="336.50" y1="143.16" x2="339.50" y2="143.16" stroke="#000" stroke-width="1.0"/>
<text x="336.60" y="145.56" font-size="6.9" font-weight="bold" text-anchor="end" fill="#000" >100</text>
<line x1="336.50" y1="127.92" x2="339.50" y2="127.92" stroke="#000" stroke-width="1.0"/>
<text x="336.60" y="130.32" font-size="6.9" font-weight="bold" text-anchor="end" fill="#000" >200</text>
<line x1="336.50" y1="112.68" x2="339.50" y2="112.68" stroke="#000" stroke-width="1.0"/>
<text x="336.60" y="115.08" font-size="6.9" font-weight="bold" text-anchor="end" fill="#000" >300</text>
<line x1="336.50" y1="97.44" x2="339.50" y2="97.44" stroke="#000" stroke-width="1.0"/>
<text x="336.60" y="99.84" font-size="6.9" font-weight="bold" text-anchor="end" fill="#000" >400</text>
<line x1="336.50" y1="82.20" x2="339.50" y2="82.20" stroke="#000" stroke-width="1.0"/>
<text x="336.60" y="84.60" font-size="6.9" font-weight="bold" text-anchor="end" fill="#000" >500</text>
<line x1="336.50" y1="66.96" x2="339.50" y2="66.96" stroke="#000" stroke-width="1.0"/>
<text x="336.60" y="69.36" font-size="6.9" font-weight="bold" text-anchor="end" fill="#000" >600</text>
<line x1="336.50" y1="51.72" x2="339.50" y2="51.72" stroke="#000" stroke-width="1.0"/>
<text x="336.60" y="54.12" font-size="6.9" font-weight="bold" text-anchor="end" fill="#000" >700</text>
<line x1="336.50" y1="36.48" x2="339.50" y2="36.48" stroke="#000" stroke-width="1.0"/>
<text x="336.60" y="38.88" font-size="6.9" font-weight="bold" text-anchor="end" fill="#000" >800</text>
<line x1="336.50" y1="21.24" x2="339.50" y2="21.24" stroke="#000" stroke-width="1.0"/>
<text x="336.60" y="23.64" font-size="6.9" font-weight="bold" text-anchor="end" fill="#000" >900</text>
<text x="319.30" y="88.90" font-size="11.3" font-weight="bold" text-anchor="middle" fill="#000" textLength="20.60" lengthAdjust="spacingAndGlyphs" transform="rotate(-90 319.30 88.90)" >MFI</text>
<defs><pattern id="hat" patternUnits="userSpaceOnUse" width="3.6" height="3.6" patternTransform="rotate(40)"><rect width="3.6" height="3.6" fill="#fff"/><rect width="1.6" height="3.6" fill="#000"/></pattern></defs>
<line x1="357.50" y1="158.40" x2="357.50" y2="161.40" stroke="#000" stroke-width="1.0"/>
<text x="357.50" y="168.00" font-size="7.9" font-weight="bold" text-anchor="middle" fill="#000" >v-mab</text>
<rect x="343.65" y="59.19" width="4.9" height="99.21" fill="#000" stroke="#000" stroke-width="0.95"/>
<line x1="346.10" y1="58.39" x2="346.10" y2="59.19" stroke="#000" stroke-width="0.9"/>
<line x1="344.90" y1="58.39" x2="347.30" y2="58.39" stroke="#000" stroke-width="0.9"/>
<rect x="351.35" y="157.18" width="4.9" height="1.22" fill="url(#hat)" stroke="#000" stroke-width="0.95"/>
<rect x="358.85" y="104.76" width="4.9" height="53.64" fill="#999" stroke="#000" stroke-width="0.95"/>
<line x1="361.30" y1="103.96" x2="361.30" y2="104.76" stroke="#000" stroke-width="0.9"/>
<line x1="360.10" y1="103.96" x2="362.50" y2="103.96" stroke="#000" stroke-width="0.9"/>
<rect x="366.45" y="157.03" width="4.9" height="1.37" fill="#fff" stroke="#000" stroke-width="0.95"/>
<line x1="393.50" y1="158.40" x2="393.50" y2="161.40" stroke="#000" stroke-width="1.0"/>
<text x="393.50" y="168.00" font-size="7.9" font-weight="bold" text-anchor="middle" fill="#000" >e-mab</text>
<rect x="379.65" y="146.82" width="4.9" height="11.58" fill="#000" stroke="#000" stroke-width="0.95"/>
<line x1="382.10" y1="146.02" x2="382.10" y2="146.82" stroke="#000" stroke-width="0.9"/>
<line x1="380.90" y1="146.02" x2="383.30" y2="146.02" stroke="#000" stroke-width="0.9"/>
<rect x="387.35" y="146.82" width="4.9" height="11.58" fill="url(#hat)" stroke="#000" stroke-width="0.95"/>
<line x1="389.80" y1="146.02" x2="389.80" y2="146.82" stroke="#000" stroke-width="0.9"/>
<line x1="388.60" y1="146.02" x2="391.00" y2="146.02" stroke="#000" stroke-width="0.9"/>
<rect x="394.85" y="157.18" width="4.9" height="1.22" fill="#999" stroke="#000" stroke-width="0.95"/>
<rect x="402.45" y="157.94" width="4.9" height="0.46" fill="#fff" stroke="#000" stroke-width="0.95"/>
<line x1="429.50" y1="158.40" x2="429.50" y2="161.40" stroke="#000" stroke-width="1.0"/>
<text x="429.50" y="168.00" font-size="7.9" font-weight="bold" text-anchor="middle" fill="#000" >22-20</text>
<rect x="415.65" y="36.18" width="4.9" height="122.22" fill="#000" stroke="#000" stroke-width="0.95"/>
<line x1="418.10" y1="35.38" x2="418.10" y2="36.18" stroke="#000" stroke-width="0.9"/>
<line x1="416.90" y1="35.38" x2="419.30" y2="35.38" stroke="#000" stroke-width="0.9"/>
<rect x="423.35" y="151.54" width="4.9" height="6.86" fill="url(#hat)" stroke="#000" stroke-width="0.95"/>
<line x1="425.80" y1="150.74" x2="425.80" y2="151.54" stroke="#000" stroke-width="0.9"/>
<line x1="424.60" y1="150.74" x2="427.00" y2="150.74" stroke="#000" stroke-width="0.9"/>
<rect x="430.85" y="127.46" width="4.9" height="30.94" fill="#999" stroke="#000" stroke-width="0.95"/>
<line x1="433.30" y1="126.66" x2="433.30" y2="127.46" stroke="#000" stroke-width="0.9"/>
<line x1="432.10" y1="126.66" x2="434.50" y2="126.66" stroke="#000" stroke-width="0.9"/>
<rect x="438.45" y="157.49" width="4.9" height="0.91" fill="#fff" stroke="#000" stroke-width="0.95"/>
<line x1="465.50" y1="158.40" x2="465.50" y2="161.40" stroke="#000" stroke-width="1.0"/>
<text x="465.50" y="168.00" font-size="7.9" font-weight="bold" text-anchor="middle" fill="#000" >20-22</text>
<rect x="451.65" y="71.53" width="4.9" height="86.87" fill="#000" stroke="#000" stroke-width="0.95"/>
<line x1="454.10" y1="70.73" x2="454.10" y2="71.53" stroke="#000" stroke-width="0.9"/>
<line x1="452.90" y1="70.73" x2="455.30" y2="70.73" stroke="#000" stroke-width="0.9"/>
<rect x="459.35" y="151.08" width="4.9" height="7.32" fill="url(#hat)" stroke="#000" stroke-width="0.95"/>
<line x1="461.80" y1="150.28" x2="461.80" y2="151.08" stroke="#000" stroke-width="0.9"/>
<line x1="460.60" y1="150.28" x2="463.00" y2="150.28" stroke="#000" stroke-width="0.9"/>
<rect x="466.85" y="129.75" width="4.9" height="28.65" fill="#999" stroke="#000" stroke-width="0.95"/>
<line x1="469.30" y1="128.95" x2="469.30" y2="129.75" stroke="#000" stroke-width="0.9"/>
<line x1="468.10" y1="128.95" x2="470.50" y2="128.95" stroke="#000" stroke-width="0.9"/>
<rect x="474.45" y="157.33" width="4.9" height="1.07" fill="#fff" stroke="#000" stroke-width="0.95"/>
<text x="438.90" y="23.50" font-size="7.0" font-weight="normal" text-anchor="start" fill="#000" >Blocking C<tspan font-size="4.8" dy="1.5">H</tspan><tspan dy="-1.5">1-DDD2-Fab</tspan></text>
<line x1="438.20" y1="26.90" x2="517.90" y2="26.90" stroke="#000" stroke-width="1.3"/>
<rect x="454.4" y="30.00" width="10.6" height="5.4" fill="#000" stroke="#000" stroke-width="0.9"/>
<text x="466.60" y="35.40" font-size="7.0" font-weight="bold" text-anchor="start" fill="#000" >None</text>
<rect x="454.4" y="38.65" width="10.6" height="5.4" fill="url(#hat)" stroke="#000" stroke-width="0.9"/>
<text x="466.60" y="44.05" font-size="7.0" font-weight="bold" text-anchor="start" fill="#000" >v-mab</text>
<rect x="454.4" y="47.30" width="10.6" height="5.4" fill="#999" stroke="#000" stroke-width="0.9"/>
<text x="466.60" y="52.70" font-size="7.0" font-weight="bold" text-anchor="start" fill="#000" >e-mab</text>
<rect x="454.4" y="55.95" width="10.6" height="5.4" fill="#fff" stroke="#000" stroke-width="0.9"/>
<text x="466.60" y="61.35" font-size="7.0" font-weight="bold" text-anchor="start" fill="#000" >v-mab + e-mab</text>
<text x="37.20" y="203.30" font-size="12" font-weight="bold" text-anchor="start" fill="#000" >D</text>
<line x1="65.50" y1="209.00" x2="65.50" y2="340.50" stroke="#000" stroke-width="1.3"/>
<line x1="65.00" y1="340.00" x2="168.60" y2="340.00" stroke="#000" stroke-width="1.3"/>
<line x1="62.50" y1="340.00" x2="65.50" y2="340.00" stroke="#000" stroke-width="1.0"/>
<text x="62.60" y="342.40" font-size="7.0" font-weight="normal" text-anchor="end" fill="#000" stroke="#000" stroke-width="0.25">40</text>
<line x1="62.50" y1="319.67" x2="65.50" y2="319.67" stroke="#000" stroke-width="1.0"/>
<text x="62.60" y="322.07" font-size="7.0" font-weight="normal" text-anchor="end" fill="#000" stroke="#000" stroke-width="0.25">50</text>
<line x1="62.50" y1="299.34" x2="65.50" y2="299.34" stroke="#000" stroke-width="1.0"/>
<text x="62.60" y="301.74" font-size="7.0" font-weight="normal" text-anchor="end" fill="#000" stroke="#000" stroke-width="0.25">60</text>
<line x1="62.50" y1="279.01" x2="65.50" y2="279.01" stroke="#000" stroke-width="1.0"/>
<text x="62.60" y="281.41" font-size="7.0" font-weight="normal" text-anchor="end" fill="#000" stroke="#000" stroke-width="0.25">70</text>
<line x1="62.50" y1="258.68" x2="65.50" y2="258.68" stroke="#000" stroke-width="1.0"/>
<text x="62.60" y="261.08" font-size="7.0" font-weight="normal" text-anchor="end" fill="#000" stroke="#000" stroke-width="0.25">80</text>
<line x1="62.50" y1="238.35" x2="65.50" y2="238.35" stroke="#000" stroke-width="1.0"/>
<text x="62.60" y="240.75" font-size="7.0" font-weight="normal" text-anchor="end" fill="#000" stroke="#000" stroke-width="0.25">90</text>
<line x1="62.50" y1="218.02" x2="65.50" y2="218.02" stroke="#000" stroke-width="1.0"/>
<text x="62.60" y="220.42" font-size="7.0" font-weight="normal" text-anchor="end" fill="#000" stroke="#000" stroke-width="0.25">100</text>
<line x1="65.50" y1="340.00" x2="65.50" y2="343.00" stroke="#000" stroke-width="1.0"/>
<text x="65.50" y="348.60" font-size="7.0" font-weight="normal" text-anchor="middle" fill="#000" stroke="#000" stroke-width="0.25">0</text>
<line x1="99.75" y1="340.00" x2="99.75" y2="343.00" stroke="#000" stroke-width="1.0"/>
<text x="99.75" y="348.60" font-size="7.0" font-weight="normal" text-anchor="middle" fill="#000" stroke="#000" stroke-width="0.25">100</text>
<line x1="134.00" y1="340.00" x2="134.00" y2="343.00" stroke="#000" stroke-width="1.0"/>
<text x="134.00" y="348.60" font-size="7.0" font-weight="normal" text-anchor="middle" fill="#000" stroke="#000" stroke-width="0.25">200</text>
<line x1="168.25" y1="340.00" x2="168.25" y2="343.00" stroke="#000" stroke-width="1.0"/>
<text x="168.25" y="348.60" font-size="7.0" font-weight="normal" text-anchor="middle" fill="#000" stroke="#000" stroke-width="0.25">300</text>
<text x="117.10" y="361.90" font-size="11.8" font-weight="bold" text-anchor="middle" fill="#000" textLength="20.60" lengthAdjust="spacingAndGlyphs" >Min</text>
<text x="46.80" y="273.90" font-size="10.8" font-weight="bold" text-anchor="middle" fill="#000" textLength="54.60" lengthAdjust="spacingAndGlyphs" transform="rotate(-90 46.80 273.90)" >% T=0 MFI</text>
<path d="M65.50,218.02 L67.07,219.40 L68.63,220.77 L70.20,222.14 L71.77,223.49 L73.34,224.83 L74.90,226.17 L76.47,227.50 L78.04,228.81 L79.61,230.12 L81.17,231.42 L82.74,232.71 L84.31,233.99 L85.88,235.27 L87.44,236.53 L89.01,237.79 L90.58,239.03 L92.15,240.27 L93.71,241.50 L95.28,242.72 L96.85,243.94 L98.41,245.14 L99.98,246.34 L101.55,247.53 L103.12,248.71 L104.68,249.88 L106.25,251.05 L107.82,252.20 L109.39,253.35 L110.95,254.50 L112.52,255.63 L114.09,256.76 L115.66,257.87 L117.22,258.98 L118.79,260.09 L120.36,261.18 L121.93,262.27 L123.49,263.35 L125.06,264.43 L126.63,265.49 L128.19,266.55 L129.76,267.60 L131.33,268.65 L132.90,269.68 L134.46,270.71 L136.03,271.74 L137.60,272.75 L139.17,273.76 L140.73,274.77 L142.30,275.76 L143.87,276.75 L145.44,277.73 L147.00,278.71 L148.57,279.68 L150.14,280.64 L151.71,281.60 L153.27,282.55 L154.84,283.49 L156.41,284.43 L157.98,285.36" stroke="#000" stroke-width="1.4" fill="none"/>
<path d="M65.50,218.02 L67.07,219.62 L68.63,221.21 L70.20,222.79 L71.77,224.36 L73.34,225.91 L74.90,227.45 L76.47,228.98 L78.04,230.50 L79.61,232.00 L81.17,233.49 L82.74,234.98 L84.31,236.45 L85.88,237.90 L87.44,239.35 L89.01,240.78 L90.58,242.21 L92.15,243.62 L93.71,245.02 L95.28,246.41 L96.85,247.79 L98.41,249.16 L99.98,250.52 L101.55,251.86 L103.12,253.20 L104.68,254.53 L106.25,255.84 L107.82,257.15 L109.39,258.44 L110.95,259.73 L112.52,261.00 L114.09,262.26 L115.66,263.52 L117.22,264.76 L118.79,266.00 L120.36,267.22 L121.93,268.44 L123.49,269.64 L125.06,270.84 L126.63,272.03 L128.19,273.20 L129.76,274.37 L131.33,275.53 L132.90,276.68 L134.46,277.82 L136.03,278.95 L137.60,280.07 L139.17,281.19 L140.73,282.29 L142.30,283.39 L143.87,284.48 L145.44,285.56 L147.00,286.63 L148.57,287.69 L150.14,288.74 L151.71,289.79 L153.27,290.83 L154.84,291.85 L156.41,292.88 L157.98,293.89" stroke="#000" stroke-width="1.4" fill="none"/>
<path d="M65.50,218.02 L67.07,221.29 L68.63,224.49 L70.20,227.61 L71.77,230.67 L73.34,233.67 L74.90,236.60 L76.47,239.46 L78.04,242.26 L79.61,245.01 L81.17,247.69 L82.74,250.31 L84.31,252.88 L85.88,255.39 L87.44,257.85 L89.01,260.25 L90.58,262.60 L92.15,264.90 L93.71,267.15 L95.28,269.35 L96.85,271.51 L98.41,273.61 L99.98,275.67 L101.55,277.69 L103.12,279.66 L104.68,281.59 L106.25,283.48 L107.82,285.32 L109.39,287.13 L110.95,288.90 L112.52,290.63 L114.09,292.32 L115.66,293.97 L117.22,295.59 L118.79,297.17 L120.36,298.72 L121.93,300.24 L123.49,301.72 L125.06,303.17 L126.63,304.59 L128.19,305.98 L129.76,307.33 L131.33,308.66 L132.90,309.96 L134.46,311.23 L136.03,312.48 L137.60,313.69 L139.17,314.88 L140.73,316.05 L142.30,317.19 L143.87,318.30 L145.44,319.39 L147.00,320.46 L148.57,321.50 L150.14,322.52 L151.71,323.52 L153.27,324.49 L154.84,325.45 L156.41,326.38 L157.98,327.30" stroke="#000" stroke-width="1.4" fill="none"/>
<path d="M65.50,218.02 L67.07,221.42 L68.63,224.75 L70.20,228.00 L71.77,231.18 L73.34,234.28 L74.90,237.32 L76.47,240.29 L78.04,243.19 L79.61,246.02 L81.17,248.79 L82.74,251.50 L84.31,254.14 L85.88,256.73 L87.44,259.26 L89.01,261.73 L90.58,264.14 L92.15,266.50 L93.71,268.81 L95.28,271.06 L96.85,273.26 L98.41,275.42 L99.98,277.52 L101.55,279.58 L103.12,281.59 L104.68,283.56 L106.25,285.48 L107.82,287.35 L109.39,289.19 L110.95,290.98 L112.52,292.73 L114.09,294.45 L115.66,296.12 L117.22,297.76 L118.79,299.36 L120.36,300.92 L121.93,302.45 L123.49,303.94 L125.06,305.40 L126.63,306.83 L128.19,308.22 L129.76,309.59 L131.33,310.92 L132.90,312.22 L134.46,313.49 L136.03,314.73 L137.60,315.95 L139.17,317.14 L140.73,318.30 L142.30,319.43 L143.87,320.54 L145.44,321.63 L147.00,322.69 L148.57,323.72 L150.14,324.73 L151.71,325.72 L153.27,326.69 L154.84,327.64 L156.41,328.56 L157.98,329.46" stroke="#000" stroke-width="1.4" fill="none"/>
<path d="M65.50,209.90 L65.50,226.00 M63.90,209.90 L67.10,209.90 M63.90,226.00 L67.10,226.00" stroke="#000" stroke-width="0.8" fill="none"/>
<path d="M75.78,227.00 L75.78,236.00 M74.18,227.00 L77.38,227.00 M74.18,236.00 L77.38,236.00" stroke="#000" stroke-width="0.8" fill="none"/>
<path d="M96.33,264.20 L96.33,275.20 M94.73,264.20 L97.92,264.20 M94.73,275.20 L97.92,275.20" stroke="#000" stroke-width="0.8" fill="none"/>
<path d="M106.60,246.50 L106.60,270.80 M105.00,246.50 L108.20,246.50 M105.00,270.80 L108.20,270.80" stroke="#000" stroke-width="0.8" fill="none"/>
<path d="M116.88,247.60 L116.88,275.20 M115.28,247.60 L118.47,247.60 M115.28,275.20 L118.47,275.20" stroke="#000" stroke-width="0.8" fill="none"/>
<path d="M137.43,267.50 L137.43,285.10 M135.83,267.50 L139.03,267.50 M135.83,285.10 L139.03,285.10" stroke="#000" stroke-width="0.8" fill="none"/>
<path d="M147.70,273.60 L147.70,291.70 M146.10,273.60 L149.30,273.60 M146.10,291.70 L149.30,291.70" stroke="#000" stroke-width="0.8" fill="none"/>
<path d="M157.98,284.00 L157.98,294.00 M156.38,284.00 L159.58,284.00 M156.38,294.00 L159.58,294.00" stroke="#000" stroke-width="0.8" fill="none"/>
<path d="M106.60,284.00 L106.60,294.00 M105.00,284.00 L108.20,284.00 M105.00,294.00 L108.20,294.00" stroke="#000" stroke-width="0.8" fill="none"/>
<path d="M127.15,294.00 L127.15,310.40 M125.55,294.00 L128.75,294.00 M125.55,310.40 L128.75,310.40" stroke="#000" stroke-width="0.8" fill="none"/>
<path d="M137.43,299.80 L137.43,316.20 M135.83,299.80 L139.03,299.80 M135.83,316.20 L139.03,316.20" stroke="#000" stroke-width="0.8" fill="none"/>
<path d="M147.70,315.00 L147.70,324.40 M146.10,315.00 L149.30,315.00 M146.10,324.40 L149.30,324.40" stroke="#000" stroke-width="0.8" fill="none"/>
<path d="M157.98,318.50 L157.98,330.30 M156.38,318.50 L159.58,318.50 M156.38,330.30 L159.58,330.30" stroke="#000" stroke-width="0.8" fill="none"/>
<path d="M86.05,258.00 L86.05,266.00 M84.45,258.00 L87.65,258.00 M84.45,266.00 L87.65,266.00" stroke="#000" stroke-width="0.8" fill="none"/>
<rect x="63.71" y="216.23" width="3.58" height="3.58" fill="#fff" stroke="#000" stroke-width="1.01"/>
<rect x="73.98" y="242.86" width="3.58" height="3.58" fill="#fff" stroke="#000" stroke-width="1.01"/>
<rect x="84.26" y="261.16" width="3.58" height="3.58" fill="#fff" stroke="#000" stroke-width="1.01"/>
<rect x="94.53" y="269.49" width="3.58" height="3.58" fill="#fff" stroke="#000" stroke-width="1.01"/>
<rect x="104.81" y="286.57" width="3.58" height="3.58" fill="#fff" stroke="#000" stroke-width="1.01"/>
<rect x="115.08" y="297.55" width="3.58" height="3.58" fill="#fff" stroke="#000" stroke-width="1.01"/>
<rect x="125.36" y="300.60" width="3.58" height="3.58" fill="#fff" stroke="#000" stroke-width="1.01"/>
<rect x="135.63" y="309.75" width="3.58" height="3.58" fill="#fff" stroke="#000" stroke-width="1.01"/>
<rect x="145.91" y="316.86" width="3.58" height="3.58" fill="#fff" stroke="#000" stroke-width="1.01"/>
<rect x="156.18" y="329.06" width="3.58" height="3.58" fill="#fff" stroke="#000" stroke-width="1.01"/>
<circle cx="65.50" cy="218.02" r="1.96" fill="#fff" stroke="#000" stroke-width="1.01"/>
<circle cx="75.78" cy="242.42" r="1.96" fill="#fff" stroke="#000" stroke-width="1.01"/>
<circle cx="86.05" cy="260.71" r="1.96" fill="#fff" stroke="#000" stroke-width="1.01"/>
<circle cx="96.33" cy="270.88" r="1.96" fill="#fff" stroke="#000" stroke-width="1.01"/>
<circle cx="106.60" cy="285.11" r="1.96" fill="#fff" stroke="#000" stroke-width="1.01"/>
<circle cx="116.88" cy="297.31" r="1.96" fill="#fff" stroke="#000" stroke-width="1.01"/>
<circle cx="127.15" cy="303.41" r="1.96" fill="#fff" stroke="#000" stroke-width="1.01"/>
<circle cx="137.43" cy="302.39" r="1.96" fill="#fff" stroke="#000" stroke-width="1.01"/>
<circle cx="147.70" cy="317.64" r="1.96" fill="#fff" stroke="#000" stroke-width="1.01"/>
<circle cx="157.98" cy="324.75" r="1.96" fill="#fff" stroke="#000" stroke-width="1.01"/>
<path d="M65.50,215.56 L67.96,219.99 L63.04,219.99 Z" fill="#000"/>
<path d="M75.78,229.38 L78.24,233.82 L73.31,233.82 Z" fill="#000"/>
<path d="M86.05,239.95 L88.51,244.39 L83.59,244.39 Z" fill="#000"/>
<path d="M96.33,253.37 L98.79,257.81 L93.86,257.81 Z" fill="#000"/>
<path d="M106.60,258.25 L109.06,262.68 L104.14,262.68 Z" fill="#000"/>
<path d="M116.88,268.82 L119.34,273.26 L114.41,273.26 Z" fill="#000"/>
<path d="M127.15,275.94 L129.61,280.37 L124.69,280.37 Z" fill="#000"/>
<path d="M137.43,277.36 L139.89,281.79 L134.96,281.79 Z" fill="#000"/>
<path d="M147.70,283.66 L150.16,288.10 L145.24,288.10 Z" fill="#000"/>
<path d="M157.98,291.39 L160.44,295.82 L155.51,295.82 Z" fill="#000"/>
<circle cx="65.50" cy="218.02" r="2.13" fill="#000"/>
<circle cx="75.78" cy="231.44" r="2.13" fill="#000"/>
<circle cx="86.05" cy="243.23" r="2.13" fill="#000"/>
<circle cx="96.33" cy="246.89" r="2.13" fill="#000"/>
<circle cx="106.60" cy="257.87" r="2.13" fill="#000"/>
<circle cx="116.88" cy="257.26" r="2.13" fill="#000"/>
<circle cx="127.15" cy="267.22" r="2.13" fill="#000"/>
<circle cx="137.43" cy="270.88" r="2.13" fill="#000"/>
<circle cx="147.70" cy="278.40" r="2.13" fill="#000"/>
<circle cx="157.98" cy="287.96" r="2.13" fill="#000"/>
<circle cx="130.20" cy="224.40" r="1.71" fill="#000"/>
<text x="136.50" y="226.80" font-size="7.4" font-weight="normal" text-anchor="start" fill="#000" >20-20</text>
<text x="198.00" y="226.80" font-size="7.3" font-weight="normal" text-anchor="end" fill="#000" >322.3</text>
<path d="M130.20,231.02 L132.18,234.58 L128.22,234.58 Z" fill="#000"/>
<text x="136.50" y="235.40" font-size="7.4" font-weight="normal" text-anchor="start" fill="#000" >22-20</text>
<text x="198.00" y="235.40" font-size="7.3" font-weight="normal" text-anchor="end" fill="#000" >268.4</text>
<circle cx="130.20" cy="241.60" r="1.75" fill="#fff" stroke="#000" stroke-width="0.90"/>
<text x="136.50" y="244.00" font-size="7.4" font-weight="normal" text-anchor="start" fill="#000" >20-22</text>
<text x="198.00" y="244.00" font-size="7.3" font-weight="normal" text-anchor="end" fill="#000" >152.3</text>
<rect x="128.76" y="248.76" width="2.88" height="2.88" fill="#fff" stroke="#000" stroke-width="0.81"/>
<text x="136.50" y="252.60" font-size="7.4" font-weight="normal" text-anchor="start" fill="#000" >v-mab</text>
<text x="198.00" y="252.60" font-size="7.3" font-weight="normal" text-anchor="end" fill="#000" >145.0</text>
<text x="175.60" y="207.50" font-size="5.9" font-weight="bold" text-anchor="start" fill="#000" textLength="24.00" lengthAdjust="spacingAndGlyphs" >Half-Life</text>
<text x="178.80" y="215.70" font-size="6.5" font-weight="normal" text-anchor="start" fill="#000" textLength="15.10" lengthAdjust="spacingAndGlyphs" >(min)</text>
<line x1="176.10" y1="218.60" x2="198.90" y2="218.60" stroke="#000" stroke-width="1.1"/>
<text x="283.00" y="203.30" font-size="12" font-weight="bold" text-anchor="start" fill="#000" >E</text>
<line x1="307.50" y1="236.98" x2="307.50" y2="330.00" stroke="#000" stroke-width="1.3"/>
<line x1="307.00" y1="329.50" x2="447.00" y2="329.50" stroke="#000" stroke-width="1.3"/>
<line x1="304.50" y1="329.50" x2="307.50" y2="329.50" stroke="#000" stroke-width="1.0"/>
<text x="304.30" y="331.80" font-size="6.9" font-weight="normal" text-anchor="end" fill="#000" stroke="#000" stroke-width="0.25">0</text>
<line x1="304.50" y1="314.13" x2="307.50" y2="314.13" stroke="#000" stroke-width="1.0"/>
<text x="304.30" y="316.43" font-size="6.9" font-weight="normal" text-anchor="end" fill="#000" stroke="#000" stroke-width="0.25">10</text>
<line x1="304.50" y1="298.76" x2="307.50" y2="298.76" stroke="#000" stroke-width="1.0"/>
<text x="304.30" y="301.06" font-size="6.9" font-weight="normal" text-anchor="end" fill="#000" stroke="#000" stroke-width="0.25">20</text>
<line x1="304.50" y1="283.39" x2="307.50" y2="283.39" stroke="#000" stroke-width="1.0"/>
<text x="304.30" y="285.69" font-size="6.9" font-weight="normal" text-anchor="end" fill="#000" stroke="#000" stroke-width="0.25">30</text>
<line x1="304.50" y1="268.02" x2="307.50" y2="268.02" stroke="#000" stroke-width="1.0"/>
<text x="304.30" y="270.32" font-size="6.9" font-weight="normal" text-anchor="end" fill="#000" stroke="#000" stroke-width="0.25">40</text>
<line x1="304.50" y1="252.65" x2="307.50" y2="252.65" stroke="#000" stroke-width="1.0"/>
<text x="304.30" y="254.95" font-size="6.9" font-weight="normal" text-anchor="end" fill="#000" stroke="#000" stroke-width="0.25">50</text>
<line x1="304.50" y1="237.28" x2="307.50" y2="237.28" stroke="#000" stroke-width="1.0"/>
<text x="304.30" y="239.58" font-size="6.9" font-weight="normal" text-anchor="end" fill="#000" stroke="#000" stroke-width="0.25">60</text>
<text x="290.90" y="284.00" font-size="8.6" font-weight="bold" text-anchor="middle" fill="#000" textLength="79.50" lengthAdjust="spacingAndGlyphs" transform="rotate(-90 290.90 284.00)" >% MAb Internalized</text>
<rect x="313.25" y="315.36" width="23.6" height="14.14" fill="#6b6b6b" stroke="#000" stroke-width="1.35"/>
<line x1="325.05" y1="315.36" x2="325.05" y2="313.52" stroke="#000" stroke-width="1.0"/>
<line x1="319.05" y1="313.52" x2="331.05" y2="313.52" stroke="#000" stroke-width="1.0"/>
<line x1="325.05" y1="329.50" x2="325.05" y2="332.50" stroke="#000" stroke-width="1.0"/>
<text x="327.35" y="338.80" font-size="7.6" font-weight="bold" text-anchor="end" fill="#000" transform="rotate(-45 327.35 338.80)" >v-mab</text>
<rect x="348.20" y="258.03" width="23.6" height="71.47" fill="#6b6b6b" stroke="#000" stroke-width="1.35"/>
<line x1="360.00" y1="258.03" x2="360.00" y2="256.49" stroke="#000" stroke-width="1.0"/>
<line x1="354.00" y1="256.49" x2="366.00" y2="256.49" stroke="#000" stroke-width="1.0"/>
<line x1="360.00" y1="329.50" x2="360.00" y2="332.50" stroke="#000" stroke-width="1.0"/>
<text x="362.30" y="338.80" font-size="7.6" font-weight="bold" text-anchor="end" fill="#000" transform="rotate(-45 362.30 338.80)" >e-mab</text>
<rect x="383.10" y="307.37" width="23.6" height="22.13" fill="#6b6b6b" stroke="#000" stroke-width="1.35"/>
<line x1="394.90" y1="307.37" x2="394.90" y2="300.60" stroke="#000" stroke-width="1.0"/>
<line x1="388.90" y1="300.60" x2="400.90" y2="300.60" stroke="#000" stroke-width="1.0"/>
<line x1="394.90" y1="329.50" x2="394.90" y2="332.50" stroke="#000" stroke-width="1.0"/>
<text x="397.20" y="338.80" font-size="7.6" font-weight="bold" text-anchor="end" fill="#000" transform="rotate(-45 397.20 338.80)" >22-20</text>
<rect x="417.45" y="246.04" width="23.6" height="83.46" fill="#6b6b6b" stroke="#000" stroke-width="1.35"/>
<line x1="429.25" y1="246.04" x2="429.25" y2="243.27" stroke="#000" stroke-width="1.0"/>
<line x1="423.25" y1="243.27" x2="435.25" y2="243.27" stroke="#000" stroke-width="1.0"/>
<line x1="429.25" y1="329.50" x2="429.25" y2="332.50" stroke="#000" stroke-width="1.0"/>
<text x="431.55" y="338.80" font-size="7.6" font-weight="bold" text-anchor="end" fill="#000" transform="rotate(-45 431.55 338.80)" >20-22</text>
</svg></body></html>
